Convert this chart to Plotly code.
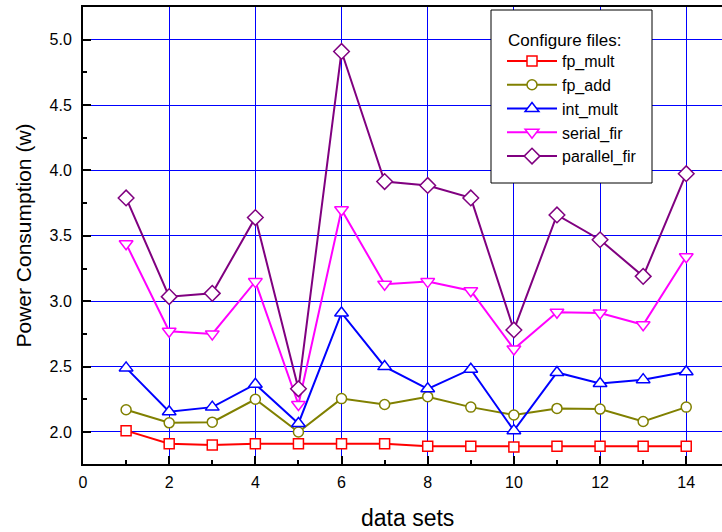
import plotly.graph_objects as go

data_sets = list(range(1, 15))
fp_mult = [2.01, 1.91, 1.90, 1.91, 1.91, 1.91, 1.91, 1.89, 1.89, 1.885, 1.89, 1.89, 1.89, 1.89]
fp_add = [2.17, 2.07, 2.075, 2.25, 2.00, 2.255, 2.21, 2.27, 2.19, 2.13, 2.18, 2.175, 2.08, 2.19]
int_mult = [2.49, 2.155, 2.19, 2.365, 2.065, 2.91, 2.50, 2.33, 2.48, 2.01, 2.455, 2.37, 2.40, 2.46]
serial_fir = [3.44, 2.77, 2.75, 3.15, 2.21, 3.70, 3.13, 3.15, 3.08, 2.635, 2.915, 2.91, 2.82, 3.34]
parallel_fir = [3.79, 3.035, 3.06, 3.64, 2.33, 4.91, 3.915, 3.885, 3.79, 2.78, 3.66, 3.47, 3.19, 3.975]

series_names = ["fp_mult", "fp_add", "int_mult", "serial_fir", "parallel_fir"]
series_values = [fp_mult, fp_add, int_mult, serial_fir, parallel_fir]
colors = ["#FF0000", "#808000", "#0000FF", "#FF00FF", "#800080"]
symbols = ["square", "circle", "triangle-up", "triangle-down", "diamond"]
sizes = [10, 10, 12, 12, 12]

W, H = 722, 532
ML, MR, MT, MB = 83, 0, 7, 68
pw = W - ML - MR
ph = H - MT - MB


def px_x(x):
    return (x - ML) / pw


def px_y(y):
    return 1 - (y - MT) / ph


fig = go.Figure()
for name, vals, c, s, sz in zip(series_names, series_values, colors, symbols, sizes):
    fig.add_trace(go.Scatter(
        x=data_sets, y=vals, name=name, mode="lines+markers",
        line=dict(color=c, width=2),
        marker=dict(symbol=s, size=sz, color="white", line=dict(color=c, width=1.5)),
    ))

# legend frame
fig.add_shape(type="rect", xref="paper", yref="paper",
              x0=px_x(491), x1=px_x(652), y0=px_y(183), y1=px_y(10),
              line=dict(color="black", width=1), fillcolor="white", layer="above")

font = "Liberation Sans, Arial, sans-serif"
fig.add_annotation(text="Configure files:", xref="paper", yref="paper",
                   x=px_x(506), y=px_y(40), xanchor="left", yanchor="middle",
                   showarrow=False, font=dict(size=17, color="black"))
fig.add_annotation(text="data sets", xref="paper", yref="paper",
                   x=px_x(407), y=px_y(518), xanchor="center", yanchor="middle",
                   showarrow=False, font=dict(size=23, color="black"))

fig.update_layout(
    width=W, height=H,
    margin=dict(l=ML, r=MR, t=MT, b=MB),
    paper_bgcolor="white", plot_bgcolor="white",
    font=dict(family=font, color="black", size=15),
    showlegend=True,
    legend=dict(
        font=dict(size=16),
        x=px_x(502), xanchor="left",
        y=px_y(44), yanchor="top",
        bgcolor="rgba(0,0,0,0)", borderwidth=0,
        itemwidth=50,
    ),
    xaxis=dict(
        range=[0, 14.83], tickmode="linear", tick0=0, dtick=2,
        showgrid=True, gridcolor="#0000FF", gridwidth=1,
        showline=True, linecolor="black", linewidth=2, mirror=True,
        ticks="inside", ticklen=8, tickwidth=1.5, tickcolor="black",
        minor=dict(dtick=1, tick0=0, ticks="inside", ticklen=4, tickcolor="black", showgrid=False),
        zeroline=False,
        tickfont=dict(size=16),
        ticklabelstandoff=3,
    ),
    yaxis=dict(
        range=[1.755, 5.25], tickmode="linear", tick0=2.0, dtick=0.5, tickformat=".1f",
        showgrid=True, gridcolor="#0000FF", gridwidth=1,
        showline=True, linecolor="black", linewidth=2, mirror=False,
        ticks="inside", ticklen=8, tickwidth=1.5, tickcolor="black",
        minor=dict(dtick=0.25, tick0=2.0, ticks="inside", ticklen=4, tickcolor="black", showgrid=False),
        zeroline=False,
        title=dict(text="Power Consumption (w)", font=dict(size=21), standoff=12),
        tickfont=dict(size=16),
        ticklabelstandoff=6,
    ),
)

fig.write_html("out.html", config={"displayModeBar": False},
               post_script="document.body.style.margin='0';document.body.style.padding='0';")
